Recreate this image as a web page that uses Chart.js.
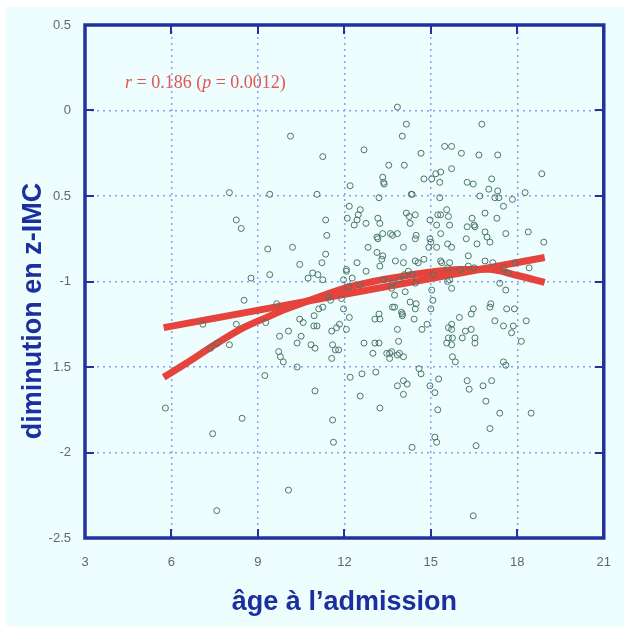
<!DOCTYPE html>
<html>
<head>
<meta charset="utf-8">
<script src="https://cdn.jsdelivr.net/npm/chart.js@4.4.0/dist/chart.umd.min.js"></script>
<style>
  html, body { margin: 0; padding: 0; background: #fff; }
  #wrap { width: 628px; height: 627px; }
</style>
</head>
<body>
<div id="wrap"><canvas id="chart" width="628" height="627"></canvas></div>
<script>
// âge à l'admission (années), une ligne = 10 patients
const ageAdmission = [
  5.79, 7.09, 7.36, 7.6, 7.43, 7.57, 8.01, 8.01, 8.25, 8.42,
  8.25, 8.45, 8.52, 8.76, 9.41, 9.34, 9.41, 9.27, 9.24, 9.65,
  9.75, 9.72, 9.78, 9.88, 10.06, 10.06, 10.13, 10.2, 10.45, 10.36,
  10.36, 10.45, 10.57, 10.5, 10.74, 10.9, 10.95, 10.84, 10.98, 10.98,
  10.94, 11.05, 11.05, 11.25, 11.35, 11.39, 11.35, 11.22, 11.08, 11.25,
  11.45, 11.52, 11.11, 11.25, 11.56, 11.73, 11.83, 11.59, 11.69, 11.8,
  11.56, 11.59, 11.62, 11.9, 11.97, 11.97, 12.07, 12.07, 12.07, 12.14,
  12.17, 12.27, 12.2, 12.17, 12.1, 12.2, 12.34, 12.44, 12.48, 12.55,
  12.44, 12.55, 12.55, 12.61, 12.68, 12.68, 12.75, 12.75, 12.82, 12.99,
  13.06, 13.06, 13.09, 13.13, 13.13, 13.16, 13.16, 13.2, 13.2, 13.2,
  13.23, 13.23, 13.23, 13.23, 13.3, 13.33, 13.33, 13.36, 13.38, 13.33,
  13.36, 13.47, 13.54, 13.57, 13.57, 13.6, 13.64, 13.64, 13.67, 13.67,
  13.67, 13.74, 13.74, 13.77, 13.84, 13.84, 13.84, 13.84, 13.84, 13.88,
  13.91, 13.91, 13.98, 14.01, 14.01, 14.01, 14.05, 14.05, 14.05, 14.05,
  14.05, 14.08, 14.08, 14.11, 14.15, 14.15, 14.18, 14.22, 14.25, 14.28,
  14.28, 14.32, 14.35, 14.35, 14.35, 14.42, 14.46, 14.46, 14.46, 14.46,
  14.46, 14.49, 14.49, 14.56, 14.59, 14.66, 14.66, 14.69, 14.76, 14.76,
  14.87, 14.93, 14.97, 14.97, 14.97, 15.0, 15.0, 15.03, 15.03, 15.07,
  15.07, 15.14, 15.14, 15.17, 15.2, 15.2, 15.2, 15.24, 15.24, 15.27,
  15.31, 15.31, 15.34, 15.34, 15.34, 15.34, 15.38, 15.48, 15.55, 15.55,
  15.58, 15.58, 15.58, 15.61, 15.61, 15.61, 15.65, 15.65, 15.65, 15.72,
  15.72, 15.72, 15.72, 15.72, 15.72, 15.72, 15.75, 15.75, 15.85, 15.99,
  16.02, 16.06, 16.09, 16.2, 16.23, 16.26, 16.26, 16.26, 16.3, 16.3,
  16.33, 16.4, 16.4, 16.43, 16.47, 16.47, 16.47, 16.5, 16.53, 16.5,
  16.53, 16.53, 16.57, 16.6, 16.67, 16.7, 16.77, 16.81, 16.88, 16.88,
  16.88, 16.91, 16.95, 17.01, 17.05, 17.05, 17.05, 17.08, 17.11, 17.11,
  17.15, 17.22, 17.22, 17.29, 17.32, 17.32, 17.36, 17.39, 17.39, 17.52,
  17.52, 17.52, 17.52, 17.6, 17.6, 17.6, 17.63, 17.69, 17.8, 17.83,
  17.86, 17.9, 17.93, 18.14, 18.27, 18.31, 18.38, 18.41, 18.48, 18.85,
  18.92
];

// diminution en z-IMC, même ordre
const zImcDrop = [
  -1.74, -1.25, -1.39, -1.36, -1.89, -2.34, -0.48, -1.37, -0.64, -0.69,
  -1.25, -1.80, -1.11, -0.98, -0.49, -0.81, -0.96, -1.24, -1.55, -1.13,
  -1.32, -1.41, -1.44, -1.47, -1.29, -2.22, -0.15, -0.80, -0.90, -1.36,
  -1.50, -1.22, -1.24, -1.32, -0.98, -0.95, -1.20, -1.37, -1.39, -1.64,
  -1.26, -1.26, -0.49, -0.27, -0.64, -0.73, -0.84, -0.89, -0.96, -0.99,
  -1.09, -1.11, -1.16, -1.15, -1.29, -1.27, -1.25, -1.37, -1.40, -1.40,
  -1.45, -1.81, -1.94, -1.10, -0.99, -1.16, -0.93, -0.94, -1.28, -1.03,
  -1.21, -0.98, -0.44, -0.56, -0.63, -1.56, -0.67, -0.64, -0.61, -0.58,
  -0.89, -1.02, -1.67, -1.54, -0.23, -1.36, -0.66, -0.94, -0.80, -1.42,
  -1.36, -1.22, -1.53, -0.83, -0.74, -0.75, -0.63, -0.51, -1.36, -1.19,
  -1.22, -0.66, -0.91, -1.74, -0.87, -0.85, -0.39, -0.42, -0.43, -0.72,
  -0.99, -1.42, -0.32, -1.42, -1.45, -0.72, -1.04, -1.41, -1.15, -1.01,
  -0.73, -1.08, -1.15, -0.88, -0.72, -1.28, -1.43, -1.61, 0.02, -1.35,
  -0.99, -1.42, -1.18, -1.19, -1.20, -0.15, -0.80, -0.89, -1.44, -1.58,
  -1.66, -0.32, -0.96, -1.06, -0.08, -0.60, -1.60, -0.94, -0.62, -0.66,
  -1.12, -0.49, -0.49, -0.96, -1.97, -1.22, -0.61, -0.75, -0.88, -1.01,
  -1.16, -0.73, -1.13, -0.89, -1.51, -0.25, -1.54, -1.28, -0.40, -0.87,
  -1.25, -0.80, -0.64, -0.75, -1.61, -0.77, -1.16, -0.40, -1.05, -0.96,
  -1.11, -1.65, -1.91, -0.37, -0.67, -0.80, -1.94, -0.61, -1.75, -1.57,
  -0.42, -0.51, -0.36, -0.61, -0.72, -0.88, -0.89, -0.21, -0.58, -1.36,
  -0.78, -0.92, -1.00, -0.62, -1.27, -1.33, -0.67, -0.89, -0.99, -0.21,
  -0.34, -0.80, -1.04, -1.25, -1.28, -1.37, -1.33, -1.44, -1.47, -1.21,
  -0.93, -0.25, -1.33, -1.29, -0.75, -0.42, -0.68, -1.58, -0.85, -0.91,
  -1.63, -1.19, -1.28, -0.63, -0.43, -1.16, -2.37, -0.67, -0.68, -0.92,
  -1.33, -1.36, -1.96, -0.78, -0.26, -0.50, -0.08, -1.61, -0.60, -0.71,
  -0.88, -1.70, -0.74, -0.46, -0.77, -1.15, -1.86, -1.13, -0.40, -1.58,
  -0.89, -0.51, -1.23, -0.63, -0.26, -0.47, -0.51, -1.01, -1.77, -0.56,
  -0.92, -1.26, -1.47, -0.72, -1.05, -1.49, -1.16, -0.95, -1.30, -0.52,
  -1.26, -1.16, -0.89, -1.35, -0.48, -1.23, -0.71, -0.92, -1.77, -0.37,
  -0.77
];

// droite de régression
const linearFitX = [5.73, 18.95];
const linearFitY = [-1.27, -0.86];

// courbe lissée
const smoothFitX = [5.73, 6.5, 7.5, 8.5, 9.3, 10, 10.8, 12, 13, 14, 15, 16, 17, 18, 18.95];
const smoothFitY = [-1.56, -1.48, -1.37, -1.27, -1.21, -1.16, -1.11, -1.04, -1.0, -0.97, -0.945, -0.93, -0.928, -0.965, -1.005];

const xTickValues = [3, 6, 9, 12, 15, 18, 21];
const yTickValues = [0.5, 0, -0.5, -1, -1.5, -2, -2.5];
const yTickLabels = ['0.5', '0', '0.5', '-1', '1.5', '-2', '-2.5'];

const xTitle = 'âge à l’admission';
const yTitle = 'diminution en z-IMC';

const frameBlue = '#22319d';
const titleBlue = '#1b2f9f';
const fitRed = '#e5433b';

const toPoints = (xs, ys) => xs.map((x, i) => ({ x: x, y: ys[i] }));

// fond cyan, cadre, petites graduations internes, titres et annotation
const decorPlugin = {
  id: 'decor',
  beforeDraw(chart) {
    const ctx = chart.ctx;
    ctx.save();
    ctx.fillStyle = '#eefefe';
    ctx.fillRect(6, 7, 618, 619);
    ctx.restore();
  },
  afterDraw(chart) {
    const ctx = chart.ctx;
    const { left, right, top, bottom } = chart.chartArea;
    const sx = chart.scales.x, sy = chart.scales.y;
    ctx.save();
    ctx.strokeStyle = frameBlue;
    ctx.lineWidth = 2;
    xTickValues.slice(1, -1).forEach(v => {
      const px = Math.round(sx.getPixelForValue(v));
      ctx.beginPath();
      ctx.moveTo(px, bottom); ctx.lineTo(px, bottom - 9);
      ctx.moveTo(px, top); ctx.lineTo(px, top + 9);
      ctx.stroke();
    });
    yTickValues.slice(1, -1).forEach(v => {
      const py = Math.round(sy.getPixelForValue(v));
      ctx.beginPath();
      ctx.moveTo(left, py); ctx.lineTo(left + 9, py);
      ctx.moveTo(right, py); ctx.lineTo(right - 9, py);
      ctx.stroke();
    });
    ctx.lineWidth = 3.5;
    ctx.strokeRect(left, top, right - left, bottom - top);

    // titres des axes
    ctx.fillStyle = titleBlue;
    ctx.font = 'bold 27px "Liberation Sans", Arial, sans-serif';
    ctx.textAlign = 'center';
    ctx.textBaseline = 'alphabetic';
    ctx.fillText(xTitle, (left + right) / 2, 610);
    ctx.translate(41, 311);
    ctx.rotate(-Math.PI / 2);
    ctx.fillText(yTitle, 0, 0);
    ctx.restore();

    // r = 0.186 (p = 0.0012)
    ctx.save();
    ctx.fillStyle = '#e25552';
    ctx.textBaseline = 'alphabetic';
    ctx.textAlign = 'left';
    const parts = [
      ['r', true], [' = 0.186 (', false], ['p', true], [' = 0.0012)', false]
    ];
    let x = left + 40;
    const y = top + 63;
    parts.forEach(([txt, it]) => {
      ctx.font = (it ? 'italic ' : '') + '18px "Liberation Serif", "Times New Roman", serif';
      ctx.fillText(txt, x, y);
      x += ctx.measureText(txt).width;
    });
    ctx.restore();
  }
};

new Chart(document.getElementById('chart'), {
  type: 'scatter',
  data: {
    datasets: [
      {
        label: 'patients',
        data: toPoints(ageAdmission, zImcDrop),
        pointStyle: 'circle',
        pointRadius: 3,
        pointBackgroundColor: 'rgba(0,0,0,0)',
        pointBorderColor: '#4b7767',
        pointBorderWidth: 1,
        order: 0
      },
      {
        type: 'line',
        label: 'linéaire',
        data: toPoints(linearFitX, linearFitY),
        borderColor: fitRed,
        borderWidth: 7,
        pointRadius: 0,
        fill: false,
        order: 1
      },
      {
        type: 'line',
        label: 'lissage',
        data: toPoints(smoothFitX, smoothFitY),
        borderColor: fitRed,
        borderWidth: 7,
        pointRadius: 0,
        tension: 0.4,
        cubicInterpolationMode: 'monotone',
        fill: false,
        order: 1
      }
    ]
  },
  options: {
    responsive: false,
    animation: false,
    layout: { padding: { top: 25, right: 15, left: 0, bottom: 0 } },
    plugins: {
      legend: { display: false },
      tooltip: { enabled: false }
    },
    scales: {
      x: {
        type: 'linear',
        min: 3, max: 21,
        afterFit: s => { s.height = 89; },
        afterBuildTicks: s => { s.ticks = xTickValues.map(v => ({ value: v })); },
        ticks: {
          color: '#666',
          font: { family: '"Liberation Sans", Arial, sans-serif', size: 13 },
          padding: 17
        },
        grid: { color: '#8b9ff0', lineWidth: 1.5, drawTicks: false },
        border: { display: false, dash: [2, 4] }
      },
      y: {
        type: 'linear',
        min: -2.5, max: 0.5,
        afterFit: s => { s.width = 85; },
        afterBuildTicks: s => { s.ticks = yTickValues.map(v => ({ value: v })); },
        ticks: {
          color: '#666',
          font: { family: '"Liberation Sans", Arial, sans-serif', size: 13 },
          padding: 14,
          callback: v => yTickLabels[yTickValues.indexOf(v)]
        },
        grid: { color: '#8b9ff0', lineWidth: 1.5, drawTicks: false },
        border: { display: false, dash: [2, 4] }
      }
    }
  },
  plugins: [decorPlugin]
});
</script>
</body>
</html>
